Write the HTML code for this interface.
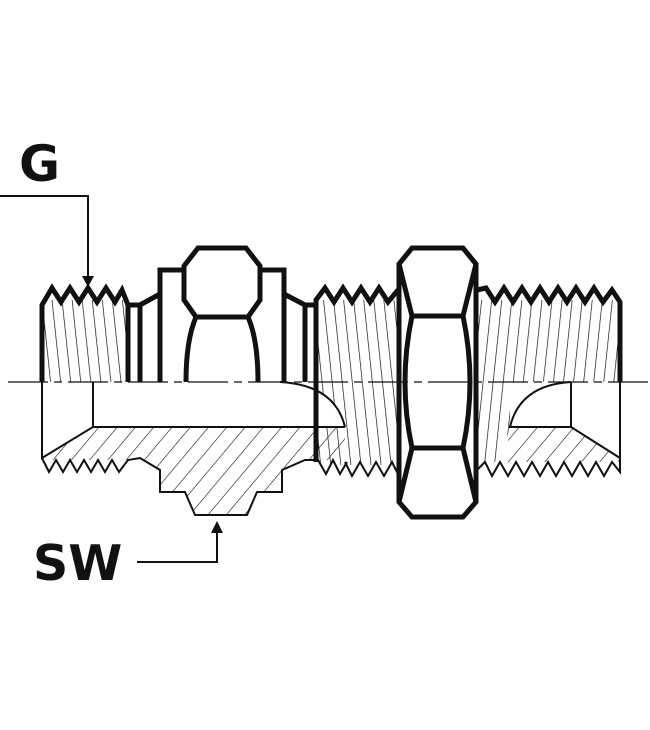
<!DOCTYPE html>
<html><head><meta charset="utf-8"><style>
html,body{margin:0;padding:0;background:#fff}
svg{display:block}
text{font-family:"DejaVu Sans","Liberation Sans",sans-serif;font-weight:bold;fill:#111}
</style></head><body>
<svg width="650" height="730" viewBox="0 0 650 730" xmlns="http://www.w3.org/2000/svg">
<defs>
<pattern id="hatch" width="14" height="14" patternUnits="userSpaceOnUse" patternTransform="rotate(40)">
<line x1="0" y1="0" x2="0" y2="14" stroke="#111" stroke-width="1.2"/>
</pattern>
<pattern id="thr" width="10" height="100" patternUnits="userSpaceOnUse" patternTransform="rotate(-6)">
<line x1="0" y1="0" x2="0" y2="100" stroke="#111" stroke-width="1.4"/>
</pattern>
<pattern id="thr2" width="10" height="100" patternUnits="userSpaceOnUse" patternTransform="rotate(6)">
<line x1="0" y1="0" x2="0" y2="100" stroke="#111" stroke-width="1.4"/>
</pattern>
</defs>

<path d="M42,460 L128,460 L140,458 L160,470 L160,492 L185,492 L195,515 L247,515 L257,492 L282,492 L282,470 L305,460 L345,460 L345,427 L93,427 L42,458 Z" fill="url(#hatch)" stroke="none"/>
<path d="M510,427 L571,427 L620,458 L620,462 L505,462 Z" fill="url(#hatch)"/>

<rect x="44" y="300" width="84" height="82" fill="url(#thr)"/>
<rect x="316" y="300" width="82" height="165" fill="url(#thr)"/>
<rect x="477" y="300" width="143" height="82" fill="url(#thr2)"/>
<path d="M477,382 L510,382 L510,427 L500,462 L477,462Z" fill="url(#thr2)"/>
<path d="M280,382 Q335,385 345,427 L93,427 L93,382Z" fill="#fff"/>
<path d="M571,382 Q520,385 510,427 L571,427Z" fill="#fff"/>

<g fill="none" stroke="#111" stroke-linejoin="miter">
<g stroke-width="2">
<line x1="8" y1="382" x2="650" y2="382" stroke-width="1.3" stroke-dasharray="40,6,8,6"/>
<path d="M42,382 L42,458 L93,427 L93,382"/>
<path d="M93,427 L345,427"/>
<path d="M280,382 Q335,385 345,427"/>
<path d="M571,382 Q520,385 510,427 L571,427 L571,382"/>
<path d="M571,427 L620,458 L620,382"/>
<path d="M42,458 L49,472 L56,460 L63,472 L70,460 L77,472 L84,460 L91,472 L98,460 L105,472 L112,460 L119,472 L128,460 L140,458 L160,470 L160,492 L185,492 L195,515 L247,515 L257,492 L282,492 L282,470 L305,460 L318,460 L326,474 L333,460 L340,474 L347,462"/>
<path d="M345,462 L352,476 L360,462 L368,476 L376,462 L384,476 L392,462 L398,474"/>
<path d="M477,470 L485,462 L492,476 L500,462 L508,476 L516,462 L524,476 L532,462 L540,476 L548,462 L556,476 L564,462 L572,476 L580,462 L588,476 L596,462 L604,476 L612,462 L620,472 L620,458"/>
<path d="M0,196 L88,196 L88,276"/>
<path d="M137,562 L217,562 L217,530"/>
</g>
<g stroke-width="5">
<path d="M42,382 L42,305 L52,288 L61,302 L70,288 L79,302 L88,288 L97,302 L106,288 L115,302 L122,290 L128,305 L128,382"/>
<path d="M128,305 L140,305 L160,294 M140,305 L140,382"/>
<path d="M160,382 L160,270 L184,270 M260,270 L284,270 L284,382 M284,294 L305,305 L316,305 M305,305 L305,382"/>
<path d="M198,248 L246,248 L260,266 L260,300 L248,317 L196,317 L184,300 L184,266 Z"/>
<path d="M196,317 Q186,340 186,382 M248,317 Q258,340 258,382"/>
<path d="M316,382 L316,300 L325,288 L334,302 L343,288 L352,302 L361,288 L370,302 L379,288 L388,302 L398,290"/>
<path d="M316,382 L316,462"/>
<path d="M412,248 L463,248 L476,264 L476,502 L463,517 L412,517 L399,502 L399,264 Z"/>
<path d="M412,316 L463,316 M412,448 L463,448"/>
<path d="M412,316 Q398,382 412,448 M463,316 Q477,382 463,448"/>
<path d="M399,264 L412,316 M476,264 L463,316 M399,502 L412,448 M476,502 L463,448"/>
<path d="M477,290 L486,288 L495,302 L504,288 L513,302 L522,288 L531,302 L540,288 L549,302 L558,288 L567,302 L576,288 L585,302 L594,288 L603,302 L612,290 L620,302 L620,382"/>
</g>
</g>
<path d="M82,276 L94,276 L88,287Z" fill="#111"/>
<path d="M211,533 L223,533 L217,521Z" fill="#111"/>
<text x="19" y="181" font-size="50">G</text>
<text x="33" y="580" font-size="49">SW</text>
</svg>
</body></html>
